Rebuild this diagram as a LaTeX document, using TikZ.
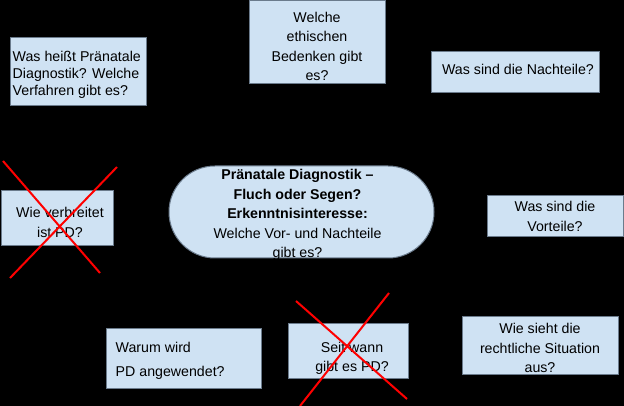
\documentclass[tikz,border=0pt]{standalone}
\usepackage{fontspec}
\setmainfont{Liberation Sans}
\usepackage{tikz}
\usetikzlibrary{backgrounds}

\definecolor{boxfill}{HTML}{CFE2F3}
\definecolor{boxline}{HTML}{6B7B8C}

\tikzset{
	qbox/.style={draw=boxline,fill=boxfill,line width=1pt,inner sep=0pt},
	qtext/.style={inner sep=0pt,align=center,font=\fontsize{14.2}{19.5}\selectfont},
	cross/.style={draw=red,line width=2pt}
}

\begin{document}
\begin{tikzpicture}[x=1pt,y=-1pt]
	\fill[black] (0,0) rectangle (624,406);
	\useasboundingbox (0,0) rectangle (624,406);

	\begin{scope}[every node/.style={qbox}]
		\node[minimum width=136,minimum height=68] (verfahren) at (78,72) {};
		\node[minimum width=136,minimum height=83] (ethik) at (317,42.5) {};
		\node[minimum width=168,minimum height=41] (nachteile) at (515,72.5) {};
		\node[minimum width=112,minimum height=55] (verbreitet) at (57,218.5) {};
		\node[minimum width=265,minimum height=92,rounded corners=46pt] (thema) at (301.5,212) {};
		\node[minimum width=136,minimum height=41] (vorteile) at (555,216.5) {};
		\node[minimum width=155,minimum height=60] (warum) at (183.5,358) {};
		\node[minimum width=120,minimum height=55] (seit) at (348,350.5) {};
		\node[minimum width=156,minimum height=58] (recht) at (540,345) {};
	\end{scope}

	\begin{scope}[every node/.style={qtext}]
		\node[anchor=west,align=left,xshift=3pt,yshift=-3pt,font=\fontsize{14.2}{17}\selectfont] (verfahren-t) at (verfahren.west)
			{Was heißt Pränatale\\Diagnostik? Welche\\Verfahren gibt es?};
		\node[yshift=-4pt] (ethik-t) at (ethik.center)
			{Welche\\ethischen\\Bedenken gibt\\es?};
		\node[xshift=3pt,yshift=3pt] (nachteile-t) at (nachteile.center)
			{Was sind die Nachteile?};
		\node[xshift=3pt,yshift=-4pt] (verbreitet-t) at (verbreitet.center)
			{Wie verbreitet\\ist PD?};
		\node[xshift=-4pt,yshift=-3pt] (thema-t) at (thema.center)
			{\textbf{Pränatale Diagnostik –}\\\textbf{Fluch oder Segen?}\\\textbf{Erkenntnisinteresse:}\\Welche Vor- und Nachteile\\gibt es?};
		\node (vorteile-t) at (vorteile.center)
			{Was sind die\\Vorteile?};
		\node[anchor=west,align=left,xshift=10pt,yshift=-3pt,font=\fontsize{14.2}{23.5}\selectfont] (warum-t) at (warum.west)
			{Warum wird\\PD angewendet?};
		\node[xshift=4pt,yshift=-8pt] (seit-t) at (seit.center)
			{Seit wann\\gibt es PD?};
		\node[yshift=-3pt] (recht-t) at (recht.center)
			{Wie sieht die\\rechtliche Situation\\aus?};
	\end{scope}

	% durchgestrichene Fragen
	\draw[cross] (3,161) -- (100,273);
	\draw[cross] (117,167) -- (10,278);
	\draw[cross] (296,301) -- (407,399);
	\draw[cross] (389,293) -- (300,406);
\end{tikzpicture}
\end{document}
